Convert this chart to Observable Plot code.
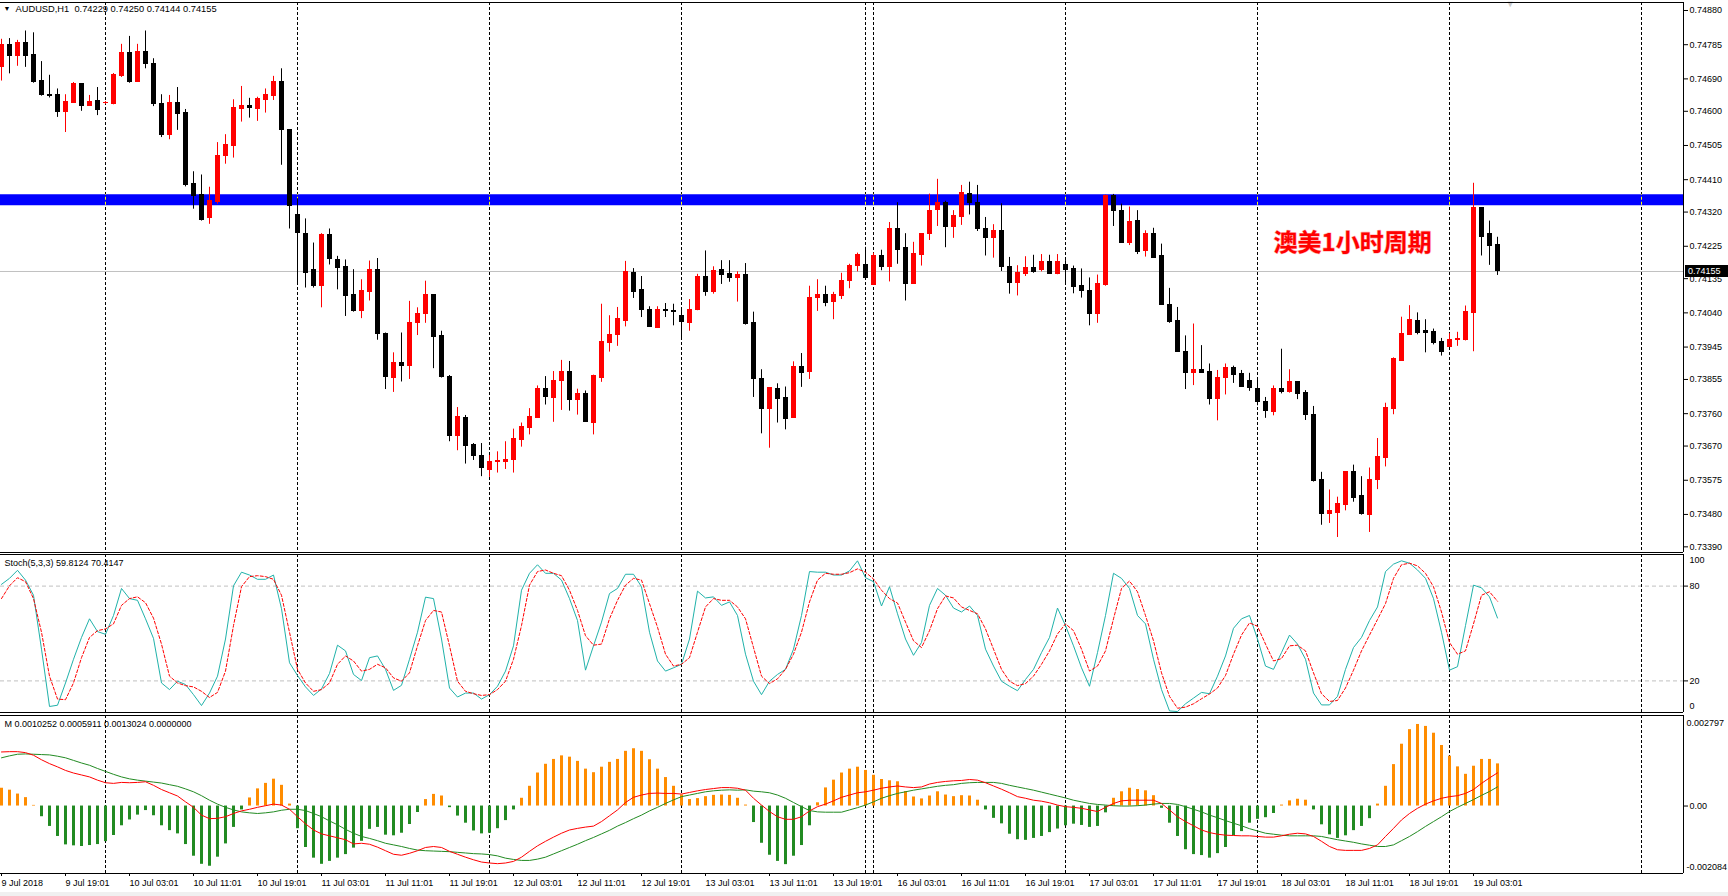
<!DOCTYPE html>
<html><head><meta charset="utf-8">
<script src="https://cdn.jsdelivr.net/npm/d3@7"></script>
<script src="https://cdn.jsdelivr.net/npm/@observablehq/plot@0.6"></script>
<style>
html,body{margin:0;padding:0;background:#fff;}
#chart{position:relative;width:1728px;height:896px;background:#fff;overflow:hidden;}
#chart svg{position:absolute;left:0;}
#strip{position:absolute;left:0;top:892px;width:1728px;height:4px;background:#f0f0f0;}
</style></head><body><div id="chart"><div id="strip"></div></div>
<script>
// ---------- DATA ----------
const symbolTitle = "AUDUSD,H1";
const opens = [
0.74722,0.74785,0.74753,0.74789,0.74755,0.74683,0.74646,0.74644,0.74598,0.74624,
0.74675,0.74614,0.74629,0.74622,0.74621,0.74697,0.74763,0.74680,0.74766,0.74732,
0.74621,0.74533,0.74624,0.74594,0.74397,0.74367,0.74303,0.74347,0.74475,0.74504,
0.74607,0.74614,0.74606,0.74632,0.74642,0.74680,0.74548,0.74311,0.74260,0.74160,
0.74115,0.74257,0.74187,0.74168,0.74089,0.74044,0.74097,0.74159,0.73981,0.73858,
0.73902,0.73892,0.74012,0.74036,0.74089,0.73975,0.73863,0.73698,0.73749,0.73673,
0.73643,0.73603,0.73625,0.73627,0.73632,0.73687,0.73721,0.73749,0.73828,0.73804,
0.73850,0.73877,0.73797,0.73814,0.73734,0.73860,0.73956,0.73979,0.74017,0.74152,
0.74103,0.74049,0.73998,0.74049,0.74046,0.74032,0.74012,0.74049,0.74141,0.74098,
0.74160,0.74149,0.74137,0.74146,0.74011,0.73857,0.73772,0.73828,0.73803,0.73747,
0.73891,0.73875,0.74080,0.74091,0.74070,0.74088,0.74128,0.74170,0.74174,0.74118,
0.74197,0.74168,0.74273,0.74220,0.74119,0.74201,0.74258,0.74325,0.74344,0.74278,
0.74306,0.74369,0.74345,0.74273,0.74247,0.74268,0.74168,0.74124,0.74149,0.74165,
0.74158,0.74180,0.74149,0.74174,0.74162,0.74114,0.74100,0.74036,0.74117,0.74364,
0.74324,0.74234,0.74296,0.74213,0.74260,0.74198,0.74063,0.74017,0.73931,0.73872,
0.73882,0.73876,0.73801,0.73860,0.73888,0.73870,0.73850,0.73828,0.73793,0.73765,
0.73828,0.73819,0.73849,0.73817,0.73757,0.73577,0.73482,0.73485,0.73505,0.73598,
0.73531,0.73479,0.73575,0.73637,0.73772,0.73907,0.73979,0.74017,0.73989,0.73986,
0.73959,0.73946,0.73964,0.73964,0.74040,0.74330,0.74258,0.74229];
const highs = [
0.74800,0.74802,0.74797,0.74823,0.74818,0.74738,0.74700,0.74662,0.74646,0.74680,
0.74677,0.74644,0.74666,0.74627,0.74705,0.74786,0.74808,0.74786,0.74823,0.74746,
0.74646,0.74644,0.74666,0.74605,0.74432,0.74423,0.74389,0.74513,0.74535,0.74632,
0.74669,0.74636,0.74639,0.74662,0.74697,0.74718,0.74548,0.74357,0.74301,0.74234,
0.74260,0.74273,0.74197,0.74187,0.74160,0.74132,0.74184,0.74191,0.73984,0.73929,
0.73984,0.74072,0.74054,0.74128,0.74089,0.73989,0.73866,0.73777,0.73755,0.73677,
0.73677,0.73644,0.73654,0.73682,0.73717,0.73734,0.73774,0.73837,0.73863,0.73877,
0.73908,0.73905,0.73828,0.73823,0.73867,0.74064,0.74032,0.74055,0.74183,0.74163,
0.74141,0.74057,0.74057,0.74066,0.74064,0.74052,0.74077,0.74147,0.74212,0.74168,
0.74185,0.74185,0.74154,0.74177,0.74042,0.73882,0.73832,0.73843,0.73834,0.73904,
0.73927,0.74114,0.74132,0.74114,0.74097,0.74150,0.74175,0.74206,0.74222,0.74206,
0.74214,0.74291,0.74346,0.74260,0.74236,0.74260,0.74370,0.74411,0.74350,0.74324,
0.74394,0.74403,0.74394,0.74305,0.74285,0.74343,0.74194,0.74171,0.74196,0.74200,
0.74202,0.74200,0.74202,0.74185,0.74170,0.74162,0.74137,0.74145,0.74367,0.74369,
0.74342,0.74334,0.74324,0.74268,0.74275,0.74231,0.74108,0.74055,0.73976,0.74009,
0.73949,0.73898,0.73880,0.73898,0.73892,0.73880,0.73872,0.73853,0.73805,0.73837,
0.73939,0.73882,0.73849,0.73824,0.73780,0.73597,0.73548,0.73528,0.73598,0.73617,
0.73585,0.73609,0.73691,0.73789,0.73915,0.74028,0.74060,0.74040,0.74021,0.73995,
0.73969,0.73982,0.73986,0.74059,0.74400,0.74330,0.74295,0.74250];
const lows = [
0.74684,0.74704,0.74725,0.74722,0.74678,0.74642,0.74637,0.74583,0.74541,0.74622,
0.74600,0.74614,0.74588,0.74619,0.74618,0.74694,0.74678,0.74680,0.74718,0.74613,
0.74527,0.74521,0.74547,0.74390,0.74328,0.74295,0.74286,0.74342,0.74453,0.74470,
0.74570,0.74581,0.74572,0.74595,0.74630,0.74450,0.74273,0.74117,0.74109,0.74109,
0.74054,0.74173,0.74104,0.74030,0.74042,0.74024,0.74073,0.73964,0.73827,0.73819,
0.73848,0.73855,0.73977,0.74011,0.73885,0.73859,0.73682,0.73657,0.73620,0.73630,
0.73585,0.73583,0.73595,0.73605,0.73595,0.73667,0.73701,0.73747,0.73784,0.73736,
0.73769,0.73767,0.73756,0.73736,0.73701,0.73847,0.73931,0.73947,0.74001,0.74080,
0.74027,0.74001,0.73998,0.74027,0.74004,0.73964,0.73989,0.74046,0.74086,0.74092,
0.74119,0.74125,0.74070,0.74006,0.73805,0.73704,0.73664,0.73734,0.73715,0.73747,
0.73833,0.73855,0.74044,0.74057,0.74021,0.74077,0.74107,0.74154,0.74130,0.74116,
0.74157,0.74126,0.74175,0.74073,0.74119,0.74170,0.74241,0.74280,0.74221,0.74247,
0.74283,0.74312,0.74266,0.74198,0.74192,0.74155,0.74092,0.74087,0.74141,0.74150,
0.74154,0.74148,0.74146,0.74117,0.74093,0.74081,0.74004,0.74011,0.74114,0.74280,
0.74235,0.74227,0.74202,0.74195,0.74193,0.74061,0.74011,0.73931,0.73827,0.73838,
0.73872,0.73784,0.73740,0.73812,0.73844,0.73835,0.73822,0.73782,0.73747,0.73754,
0.73815,0.73817,0.73799,0.73741,0.73570,0.73450,0.73455,0.73416,0.73490,0.73514,
0.73478,0.73430,0.73549,0.73612,0.73757,0.73907,0.73979,0.73979,0.73929,0.73951,
0.73920,0.73944,0.73947,0.73962,0.73932,0.74198,0.74172,0.74144];
const closes = [
0.74785,0.74753,0.74790,0.74753,0.74680,0.74646,0.74642,0.74598,0.74627,0.74675,
0.74614,0.74627,0.74603,0.74623,0.74700,0.74763,0.74680,0.74766,0.74730,0.74620,
0.74533,0.74624,0.74593,0.74394,0.74364,0.74299,0.74352,0.74477,0.74505,0.74608,
0.74616,0.74608,0.74635,0.74644,0.74682,0.74547,0.74337,0.74261,0.74150,0.74115,
0.74257,0.74189,0.74164,0.74087,0.74044,0.74102,0.74159,0.73981,0.73862,0.73902,
0.73892,0.74011,0.74038,0.74089,0.73972,0.73863,0.73698,0.73752,0.73669,0.73642,
0.73610,0.73625,0.73628,0.73632,0.73689,0.73722,0.73751,0.73828,0.73807,0.73850,
0.73877,0.73797,0.73814,0.73736,0.73864,0.73958,0.73979,0.74023,0.74154,0.74098,
0.74047,0.74001,0.74049,0.74044,0.74042,0.74015,0.74049,0.74141,0.74098,0.74157,
0.74144,0.74136,0.74144,0.74010,0.73855,0.73772,0.73832,0.73802,0.73744,0.73891,
0.73873,0.74080,0.74091,0.74067,0.74089,0.74129,0.74171,0.74202,0.74138,0.74197,
0.74168,0.74273,0.74216,0.74119,0.74204,0.74260,0.74324,0.74344,0.74278,0.74308,
0.74372,0.74344,0.74272,0.74247,0.74268,0.74167,0.74124,0.74151,0.74166,0.74154,
0.74182,0.74148,0.74180,0.74158,0.74113,0.74102,0.74036,0.74120,0.74364,0.74323,
0.74235,0.74293,0.74208,0.74260,0.74193,0.74061,0.74016,0.73931,0.73872,0.73880,
0.73872,0.73801,0.73860,0.73888,0.73867,0.73835,0.73832,0.73792,0.73767,0.73828,
0.73820,0.73849,0.73815,0.73757,0.73573,0.73482,0.73489,0.73509,0.73598,0.73527,
0.73482,0.73575,0.73639,0.73775,0.73912,0.73981,0.74021,0.73984,0.73985,0.73956,
0.73932,0.73966,0.73968,0.74043,0.74330,0.74251,0.74227,0.74155];

const stochK = [
81.1,84.9,90.0,83.8,74.2,40.1,3.8,4.6,18.7,33.7,
47.5,59.3,51.2,49.5,61.4,78.5,72.1,71.0,59.3,46.9,
18.7,14.5,19.8,17.7,11.3,4.4,12.3,23.0,46.5,80.2,
88.8,87.0,84.3,84.3,87.0,65.7,31.5,23.4,16.2,10.8,
14.9,24.7,42.6,39.0,24.1,20.2,34.7,35.8,27.3,14.0,
17.2,33.7,50.8,73.0,72.1,46.5,15.5,9.8,12.3,12.3,
8.5,11.3,16.6,26.2,42.2,77.4,88.1,93.5,88.1,88.1,
83.8,72.1,58.2,26.8,42.2,57.2,75.3,78.5,87.5,87.5,
79.6,50.8,32.6,26.2,28.3,30.5,46.5,76.8,72.5,73.2,
67.8,70.0,61.4,36.9,19.8,11.3,19.8,24.1,27.3,40.1,
61.4,89.2,88.8,88.8,87.0,87.0,89.6,96.0,85.3,82.8,
67.4,79.6,62.5,46.5,36.2,44.3,67.8,78.5,74.2,66.1,
63.6,67.4,61.4,40.1,29.4,19.8,16.6,13.8,20.9,27.3,
37.9,47.5,66.1,55.0,42.2,28.3,16.6,37.9,61.4,88.1,
84.9,78.5,61.4,56.1,33.7,14.5,1.0,0.6,5.5,9.1,
12.7,11.9,23.0,35.8,53.3,59.3,61.4,46.5,29.4,27.3,
37.9,49.0,43.3,33.7,12.3,4.8,4.8,10.2,27.3,41.1,
47.5,58.2,66.8,89.2,93.9,96.0,94.5,90.2,84.9,72.1,
50.8,26.8,29.0,55.0,80.6,78.9,73.2,59.8124];
const stochD = [
72.1,80.2,85.3,82.8,72.1,50.8,23.0,8.5,8.1,18.7,
34.7,47.5,51.8,52.9,56.1,67.8,72.1,73.2,69.5,59.7,
43.3,23.0,18.7,17.0,16.2,13.4,9.5,12.7,26.2,55.0,
79.6,86.0,86.6,86.0,84.3,74.2,50.8,27.3,18.7,13.4,
14.5,18.7,30.5,35.8,32.6,26.2,27.3,30.5,28.3,21.9,
19.8,25.1,42.2,58.2,64.6,63.6,42.2,19.8,13.4,11.9,
10.8,11.3,14.5,19.8,33.7,55.0,80.6,89.2,90.2,88.1,
86.6,77.4,64.6,48.6,42.6,43.3,59.3,71.0,80.6,84.9,
83.8,68.9,54.0,36.9,29.4,30.5,34.7,50.8,66.8,72.1,
71.0,71.0,66.8,59.3,41.1,23.0,18.3,21.3,27.3,36.9,
50.8,70.0,83.8,88.1,87.5,87.5,88.5,90.9,88.8,84.5,
77.4,72.1,69.3,57.2,45.4,41.1,51.8,65.7,73.8,72.5,
66.8,64.6,62.5,52.9,40.1,27.3,19.8,17.0,18.3,23.0,
30.5,39.0,49.7,56.1,51.8,40.1,26.2,29.4,39.0,59.3,
78.5,83.2,76.4,61.4,45.4,25.1,10.2,2.7,3.4,5.5,
8.7,11.7,15.5,23.4,36.9,49.0,56.7,54.6,43.3,32.6,
34.1,42.2,42.6,39.0,25.1,11.9,7.0,7.6,15.5,26.8,
39.0,49.0,58.9,68.9,84.9,93.5,94.5,92.8,88.1,79.6,
63.6,44.3,36.9,39.0,56.1,74.2,76.4,70.4147];

const macdMain = [
0.00167,0.00168,0.00168,0.00165,0.00157,0.00143,0.00131,0.00121,0.00110,0.00102,
0.00096,0.00090,0.00080,0.00072,0.00070,0.00073,0.00072,0.00073,0.00075,0.00064,
0.00051,0.00041,0.00031,0.00013,-0.00004,-0.00028,-0.00039,-0.00038,-0.00033,-0.00023,
-0.00015,-0.00010,-0.00004,0.00001,0.00006,0.00003,-0.00010,-0.00033,-0.00055,-0.00074,
-0.00086,-0.00092,-0.00098,-0.00104,-0.00117,-0.00115,-0.00118,-0.00127,-0.00138,-0.00149,
-0.00152,-0.00146,-0.00138,-0.00128,-0.00125,-0.00128,-0.00140,-0.00149,-0.00158,-0.00166,
-0.00173,-0.00176,-0.00178,-0.00176,-0.00171,-0.00158,-0.00140,-0.00123,-0.00109,-0.00096,
-0.00084,-0.00074,-0.00069,-0.00065,-0.00062,-0.00048,-0.00030,-0.00012,0.00011,0.00027,
0.00034,0.00039,0.00040,0.00039,0.00039,0.00037,0.00042,0.00047,0.00051,0.00054,
0.00057,0.00057,0.00055,0.00049,0.00024,0.00003,-0.00017,-0.00033,-0.00041,-0.00041,
-0.00033,-0.00015,-0.00002,0.00006,0.00016,0.00027,0.00034,0.00041,0.00044,0.00049,
0.00055,0.00059,0.00062,0.00059,0.00057,0.00059,0.00068,0.00073,0.00076,0.00078,
0.00079,0.00082,0.00080,0.00072,0.00062,0.00052,0.00041,0.00029,0.00024,0.00018,
0.00015,0.00010,0.00003,-0.00002,-0.00004,-0.00007,-0.00012,-0.00017,-0.00004,0.00008,
0.00016,0.00018,0.00018,0.00018,0.00018,0.00008,-0.00012,-0.00033,-0.00048,-0.00061,
-0.00074,-0.00082,-0.00087,-0.00090,-0.00091,-0.00092,-0.00092,-0.00094,-0.00096,-0.00096,
-0.00092,-0.00087,-0.00084,-0.00086,-0.00094,-0.00109,-0.00125,-0.00135,-0.00137,-0.00137,
-0.00137,-0.00131,-0.00120,-0.00094,-0.00069,-0.00043,-0.00023,-0.00007,0.00006,0.00016,
0.00024,0.00029,0.00032,0.00039,0.00051,0.00070,0.00087,0.0010252];
const macdSignal = [
0.00149,0.00155,0.00160,0.00161,0.00160,0.00159,0.00158,0.00154,0.00149,0.00141,
0.00133,0.00126,0.00116,0.00107,0.00098,0.00090,0.00084,0.00080,0.00077,0.00074,
0.00071,0.00066,0.00061,0.00053,0.00044,0.00032,0.00018,0.00006,-0.00004,-0.00012,
-0.00018,-0.00021,-0.00023,-0.00021,-0.00018,-0.00013,-0.00010,-0.00010,-0.00014,-0.00023,
-0.00033,-0.00046,-0.00058,-0.00072,-0.00084,-0.00094,-0.00100,-0.00107,-0.00115,-0.00120,
-0.00125,-0.00131,-0.00136,-0.00138,-0.00139,-0.00140,-0.00141,-0.00143,-0.00145,-0.00147,
-0.00148,-0.00150,-0.00154,-0.00161,-0.00165,-0.00168,-0.00168,-0.00164,-0.00158,-0.00148,
-0.00138,-0.00128,-0.00118,-0.00107,-0.00097,-0.00086,-0.00075,-0.00062,-0.00051,-0.00039,
-0.00028,-0.00015,-0.00004,0.00008,0.00019,0.00029,0.00034,0.00039,0.00044,0.00047,
0.00049,0.00050,0.00049,0.00050,0.00046,0.00044,0.00041,0.00034,0.00024,0.00011,
-0.00002,-0.00014,-0.00018,-0.00019,-0.00019,-0.00019,-0.00012,-0.00005,0.00003,0.00013,
0.00024,0.00032,0.00039,0.00044,0.00049,0.00053,0.00057,0.00061,0.00064,0.00066,
0.00070,0.00072,0.00073,0.00073,0.00073,0.00070,0.00064,0.00059,0.00054,0.00049,
0.00043,0.00037,0.00031,0.00025,0.00018,0.00013,0.00008,0.00005,0.00003,0.00001,
0.00000,0.00000,0.00001,0.00003,0.00006,0.00008,0.00008,0.00005,-0.00002,-0.00010,
-0.00018,-0.00028,-0.00036,-0.00045,-0.00053,-0.00061,-0.00070,-0.00077,-0.00084,-0.00087,
-0.00090,-0.00092,-0.00092,-0.00092,-0.00092,-0.00094,-0.00099,-0.00104,-0.00108,-0.00112,
-0.00117,-0.00121,-0.00125,-0.00125,-0.00120,-0.00107,-0.00094,-0.00079,-0.00063,-0.00048,
-0.00033,-0.00017,-0.00004,0.00008,0.00020,0.00033,0.00045,0.0005911];
const macdHist = [
0.00055,0.00049,0.00037,0.00026,0.00002,-0.00033,-0.00063,-0.00094,-0.00120,-0.00123,
-0.00125,-0.00122,-0.00119,-0.00110,-0.00091,-0.00061,-0.00043,-0.00028,-0.00014,-0.00030,
-0.00061,-0.00076,-0.00086,-0.00119,-0.00155,-0.00180,-0.00186,-0.00158,-0.00117,-0.00066,
-0.00012,0.00025,0.00053,0.00070,0.00083,0.00064,0.00006,-0.00070,-0.00128,-0.00161,
-0.00180,-0.00171,-0.00161,-0.00150,-0.00130,-0.00109,-0.00072,-0.00066,-0.00090,-0.00092,
-0.00084,-0.00057,-0.00020,0.00020,0.00036,0.00031,-0.00005,-0.00031,-0.00053,-0.00077,
-0.00086,-0.00084,-0.00070,-0.00045,-0.00012,0.00024,0.00061,0.00102,0.00129,0.00144,
0.00155,0.00151,0.00138,0.00114,0.00103,0.00120,0.00135,0.00144,0.00169,0.00177,
0.00169,0.00143,0.00114,0.00088,0.00061,0.00034,0.00020,0.00023,0.00029,0.00033,
0.00034,0.00033,0.00024,0.00003,-0.00051,-0.00115,-0.00152,-0.00171,-0.00181,-0.00155,
-0.00122,-0.00061,0.00010,0.00056,0.00080,0.00102,0.00114,0.00120,0.00110,0.00095,
0.00082,0.00078,0.00075,0.00045,0.00028,0.00022,0.00031,0.00044,0.00034,0.00029,
0.00032,0.00031,0.00018,-0.00012,-0.00038,-0.00055,-0.00087,-0.00104,-0.00106,-0.00100,
-0.00094,-0.00082,-0.00071,-0.00061,-0.00056,-0.00060,-0.00066,-0.00063,-0.00021,0.00024,
0.00044,0.00055,0.00051,0.00047,0.00032,-0.00007,-0.00053,-0.00094,-0.00135,-0.00150,
-0.00153,-0.00161,-0.00147,-0.00128,-0.00092,-0.00079,-0.00053,-0.00041,-0.00036,-0.00023,
0.00003,0.00016,0.00021,0.00018,-0.00012,-0.00058,-0.00089,-0.00100,-0.00092,-0.00076,
-0.00063,-0.00039,0.00006,0.00061,0.00128,0.00191,0.00236,0.00252,0.00246,0.00225,
0.00187,0.00154,0.00121,0.00098,0.00123,0.00144,0.00144,0.0013024];
const macdExtra = 0.0000000;

const priceTicks = [0.74880,0.74785,0.74690,0.74600,0.74505,0.74410,0.74320,0.74225,0.74135,0.74040,0.73945,0.73855,0.73760,0.73670,0.73575,0.73480,0.73390];
const timeTicks = [0,8,16,24,32,40,48,56,64,72,80,88,96,104,112,120,128,136,144,152,160,168,176,184];
const timeLabels = ["9 Jul 2018","9 Jul 19:01","10 Jul 03:01","10 Jul 11:01","10 Jul 19:01","11 Jul 03:01","11 Jul 11:01","11 Jul 19:01","12 Jul 03:01","12 Jul 11:01","12 Jul 19:01","13 Jul 03:01","13 Jul 11:01","13 Jul 19:01","16 Jul 03:01","16 Jul 11:01","16 Jul 19:01","17 Jul 03:01","17 Jul 11:01","17 Jul 19:01","18 Jul 03:01","18 Jul 11:01","18 Jul 19:01","19 Jul 03:01"];
const dayBreaks = [13,37,61,85,108,109,133,157,181,205];
const resistanceLevel = 0.74354;
const resistanceHalfBand = 0.00015;
const stochLevels = [20, 80];
const stochRange = [0, 100];
const macdRange = [-0.002084, 0.002797];
const annotation = [{label: "澳美1小时周期", bar: 159, price: 0.74233}];
const shiftMarkerBar = [188.6];

// ---------- LAYOUT ----------
const W = 1728, MR = 45;
const xDomain = [-0.125, 210.25];
const font = "'Liberation Sans', Arial, sans-serif";
const baseStyle = {fontFamily: font, fontSize: "9px", color: "#000", background: "transparent", overflow: "visible"};
const bars = opens.map((o, i) => ({i, o, h: highs[i], l: lows[i], c: closes[i]}));
const upBars = bars.filter(d => d.c > d.o);
const dnBars = bars.filter(d => d.c <= d.o);
const lastClose = closes[closes.length - 1];
const last = bars[bars.length - 1];
const fmt5 = d3.format(".5f");
const fmt4 = d3.format(".4f");
const fmt7 = d3.format(".7f");
const grid = (extra={}) => Plot.ruleX(dayBreaks, {stroke: "#000", strokeDasharray: "3,2", ...extra});
const edges = (yd) => [
  Plot.ruleY([yd[0], yd[1]], {stroke: "#000"}),
  Plot.ruleX([xDomain[1]], {stroke: "#000"})
];
const chart = document.getElementById("chart");

// main price panel
const mainY = [0.733743, 0.749022];
const main = Plot.plot({
  width: W, height: 553, marginLeft: 0, marginRight: MR, marginTop: 2, marginBottom: 1,
  style: baseStyle,
  x: {domain: xDomain, axis: null},
  y: {domain: mainY, axis: null},
  marks: [
    Plot.ruleY([lastClose], {stroke: "#c0c0c0"}),
    grid(),
    Plot.ruleY([resistanceLevel], {stroke: "#0000ff", strokeWidth: 11}),
    Plot.ruleX(dayBreaks, {y1: resistanceLevel - resistanceHalfBand, y2: resistanceLevel + resistanceHalfBand, stroke: "#ffff00", strokeDasharray: "3,2"}),
    Plot.ruleX(upBars, {x: "i", y1: "l", y2: "h", stroke: "#ff0000"}),
    Plot.ruleX(dnBars, {x: "i", y1: "l", y2: "h", stroke: "#000000"}),
    Plot.rect(upBars, {x1: d => d.i - 0.3125, x2: d => d.i + 0.3125, y1: "o", y2: "c", fill: "#ff0000", insetTop: -0.5, insetBottom: -0.5, shapeRendering: "crispEdges"}),
    Plot.rect(dnBars, {x1: d => d.i - 0.3125, x2: d => d.i + 0.3125, y1: "o", y2: "c", fill: "#000000", insetTop: -0.5, insetBottom: -0.5, shapeRendering: "crispEdges"}),
    Plot.axisY(priceTicks, {anchor: "right", tickSize: 4, tickPadding: 2, tickFormat: fmt5, label: null, fontSize: 9}),
    Plot.text(["▼"], {frameAnchor: "top-left", dx: 3, dy: 4, fontSize: 7, lineAnchor: "top"}),
    Plot.text([`${symbolTitle}  ${fmt5(last.o)} ${fmt5(last.h)} ${fmt5(last.l)} ${fmt5(last.c)}`], {frameAnchor: "top-left", dx: 15, dy: 3, lineAnchor: "top", fontSize: 9.3}),
    Plot.text(shiftMarkerBar, {x: d => d, frameAnchor: "top", text: () => "▼", fill: "#c8c8c8", fontSize: 9, lineAnchor: "top", dy: -2}),
    Plot.text(annotation, {x: "bar", y: "price", text: "label", textAnchor: "start", fill: "#ff0000", stroke: "#ffb4b4", strokeWidth: 1.2, paintOrder: "stroke", fontSize: 24, fontWeight: "bold", fontFamily: "'Noto Sans CJK SC', sans-serif"}),
    ...edges(mainY)
  ]
});
main.style.top = "0px";
chart.appendChild(main);
{
  const y = Math.round(main.scale("y").apply(lastClose));
  const x0 = W - MR + 2;
  const svg = d3.select(main);
  svg.append("rect").attr("x", x0).attr("y", y - 6).attr("width", 43).attr("height", 12).attr("fill", "#000");
  svg.append("text").attr("x", x0 + 3).attr("y", y).attr("dy", "0.34em").attr("fill", "#fff")
    .attr("text-anchor", "start").attr("font-family", font).attr("font-size", 9).text(fmt5(lastClose));
}

// stochastic panel
const stoch = Plot.plot({
  width: W, height: 161, marginLeft: 0, marginRight: MR, marginTop: 1, marginBottom: 2,
  style: baseStyle,
  x: {domain: xDomain, axis: null},
  y: {domain: stochRange, axis: null},
  marks: [
    Plot.ruleY(stochLevels, {stroke: "#c0c0c0", strokeDasharray: "4,3"}),
    grid(),
    Plot.line(stochK, {x: (d, i) => i, y: d => d, stroke: "#20b2aa", strokeWidth: 1}),
    Plot.line(stochD, {x: (d, i) => i, y: d => d, stroke: "#ff0000", strokeWidth: 1, strokeDasharray: "3,2"}),
    Plot.axisY(stochLevels, {anchor: "right", tickSize: 4, tickPadding: 2, label: null, fontSize: 9}),
    Plot.text([stochRange[1]], {y: d => d, frameAnchor: "right", dx: 6, dy: 6, textAnchor: "start", fontSize: 9}),
    Plot.text([stochRange[0]], {y: d => d, frameAnchor: "right", dx: 6, dy: -6, textAnchor: "start", fontSize: 9}),
    Plot.text([`Stoch(5,3,3) ${fmt4(stochK[stochK.length-1])} ${fmt4(stochD[stochD.length-1])}`], {frameAnchor: "top-left", dx: 4, dy: 5, lineAnchor: "top", fontSize: 9}),
    ...edges(stochRange)
  ]
});
stoch.style.top = "553px";
chart.appendChild(stoch);

// MACD panel
const macd = Plot.plot({
  width: W, height: 182, marginLeft: 0, marginRight: MR, marginTop: 1, marginBottom: 23,
  style: baseStyle,
  x: {domain: xDomain, axis: null},
  y: {domain: macdRange, axis: null},
  marks: [
    grid(),
    Plot.ruleX(macdHist.map((v, i) => ({i, v})).filter(d => d.v > 0), {x: "i", y1: 0, y2: "v", stroke: "#ff8c00", strokeWidth: 3}),
    Plot.ruleX(macdHist.map((v, i) => ({i, v})).filter(d => d.v <= 0), {x: "i", y1: 0, y2: "v", stroke: "#228b22", strokeWidth: 3}),
    Plot.line(macdSignal, {x: (d, i) => i, y: d => d, stroke: "#228b22", strokeWidth: 1}),
    Plot.line(macdMain, {x: (d, i) => i, y: d => d, stroke: "#ff0000", strokeWidth: 1}),
    Plot.axisY([0], {anchor: "right", tickSize: 4, tickPadding: 2, tickFormat: () => "0.00", label: null, fontSize: 9}),
    Plot.text([macdRange[1]], {y: d => d, frameAnchor: "right", dx: 3, dy: 8, textAnchor: "start", text: d => d.toFixed(6), fontSize: 9}),
    Plot.text([macdRange[0]], {y: d => d, frameAnchor: "right", dx: 3, dy: -6, textAnchor: "start", text: d => d.toFixed(6), fontSize: 9}),
    Plot.text([`M ${fmt7(macdMain[macdMain.length-1])} ${fmt7(macdSignal[macdSignal.length-1])} ${fmt7(macdHist[macdHist.length-1])} ${fmt7(macdExtra)}`], {frameAnchor: "top-left", dx: 4, dy: 5, lineAnchor: "top", fontSize: 9}),
    Plot.axisX(timeTicks, {anchor: "bottom", tickSize: 3, tickPadding: 3, tickFormat: d => timeLabels[timeTicks.indexOf(d)], textAnchor: "start", dx: 0, label: null, fontSize: 9}),
    ...edges(macdRange)
  ]
});
macd.style.top = "714px";
chart.appendChild(macd);
</script></body></html>
